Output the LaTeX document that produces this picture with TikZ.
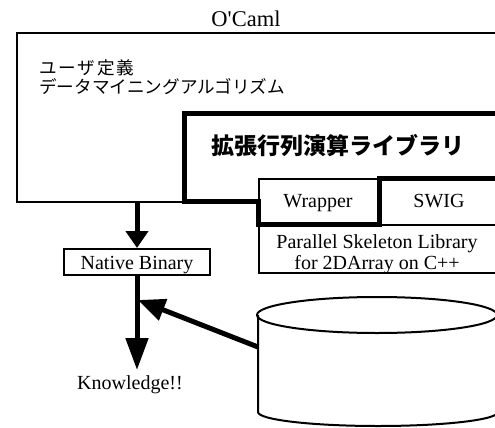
\documentclass[tikz,border=0pt]{standalone}
\usepackage{fontspec}
\setmainfont{Liberation Serif}
\newfontfamily\cjk{Noto Sans CJK JP}
\newfontfamily\cjkwide{Noto Sans CJK JP}[LetterSpace=11]
\usetikzlibrary{arrows.meta}
\begin{document}
\begin{tikzpicture}[x=1pt,y=-1pt,
  thinbox/.style={draw, line width=2pt, inner sep=0pt, anchor=north west},
  thickline/.style={line width=5pt, line join=miter},
  lbl/.style={font=\fontsize{20}{23}\selectfont, inner sep=0pt, anchor=base},
  arrA/.style={line width=5pt, -{Triangle[length=17pt,width=22pt]}},
  arrB/.style={line width=5pt, -{Triangle[length=32pt,width=22pt]}},
  arrC/.style={line width=5pt, -{Triangle[length=27pt,width=22pt]}}]
\useasboundingbox (0,0) rectangle (495,428);
\clip (0,0) rectangle (495,428);

\node[lbl, font=\fontsize{22.5}{26}\selectfont] (ocaml) at (246,27) {O\textquotesingle Caml};
\node[thinbox, minimum width=500pt, minimum height=169pt] (outer) at (16,32) {};
\node[anchor=north west, align=left, inner sep=0pt, font=\fontsize{17.6}{19.5}\selectfont] (user) at (39,59) {\cjkwide ユーザ定義\\\cjk データマイニングアルゴリズム};

% white ground of the extended matrix library and its boxes
\fill[white] (510,113) -- (184,113) -- (184,201) -- (258,201) -- (258,224) -- (510,224) -- cycle;

% Wrapper, SWIG, Parallel boxes
\node[thinbox, minimum width=121pt, minimum height=46pt] (wrapper) at (258,178) {};
\node[thinbox, minimum width=130pt, minimum height=46pt] (swig) at (379,178) {};
\node[thinbox, minimum width=250pt, minimum height=48pt] (psl) at (258,224) {};

% extended matrix library outline
\draw[thickline] (510,113) -- (184,113) -- (184,201) -- (258,201) -- (258,224) -- (379,224) -- (379,178) -- (510,178);
\node[font=\cjk\bfseries\fontsize{23}{26}\selectfont, inner sep=0pt] (lib) at (338,146) {拡張行列演算ライブラリ};

\node[lbl] (wlbl) at (318,207) {Wrapper};
\node[lbl] (slbl) at (439,207) {SWIG};
\node[lbl] (p1) at (377,248) {Parallel Skeleton Library};
\node[lbl] (p2) at (377,269) {for 2DArray on C++};

% Native binary
\node[draw, line width=2pt, minimum width=146pt, minimum height=26pt, inner sep=0pt] (nb) at (137,262) {};
\node[lbl] (nblbl) at (137,269) {Native Binary};
\node[lbl] (kn) at (130,389) {Knowledge!!};
\coordinate (kntop) at (137,370);
\coordinate (join) at (138,300);

% database cylinder
\draw[line width=2pt] (377,315) ellipse [x radius=120, y radius=18];
\draw[line width=2pt] (258,315) -- (258,412) arc[start angle=180, end angle=0, x radius=120, y radius=14] -- (497,315);
\coordinate (dbw) at (258,347);

% arrows
\draw[arrA] (nb.north |- outer.south) -- (nb.north);
\draw[arrB] (nb.south) -- (kntop);
\draw[arrC] (dbw) -- (join);
\end{tikzpicture}
\end{document}
